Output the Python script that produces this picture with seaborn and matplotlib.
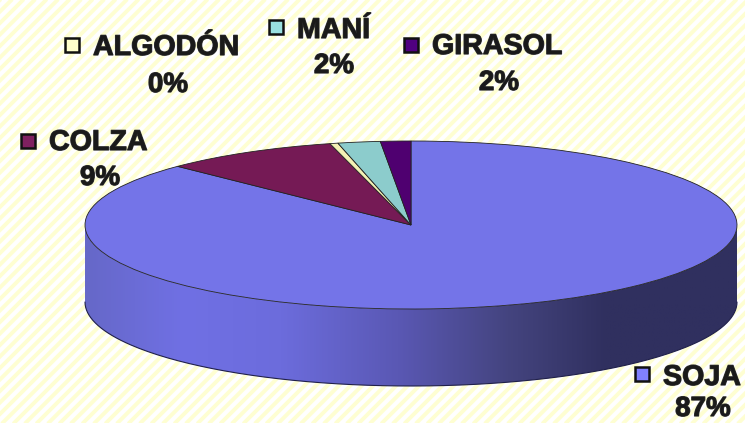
import matplotlib
matplotlib.use("Agg")
import matplotlib.pyplot as plt
import matplotlib.patheffects as pe
import numpy as np
import seaborn as sns
from matplotlib.colors import LinearSegmentedColormap
from matplotlib.patches import Polygon

sns.set_theme(style="white")
plt.rcParams["font.family"] = ["Liberation Sans", "DejaVu Sans"]

crops = ["SOJA", "COLZA", "ALGODÓN", "MANÍ", "GIRASOL"]
shares = [87.3, 8.7, 0.4, 2.1, 1.5]
colors = ["#7474e8", "#751a55", "#f4f0b4", "#8ccccc", "#4f0070"]
legend_colors = ["#8080ff", "#7f2060", "#ffffcc", "#99e0e0", "#500080"]
wall_stops = [(0, "#6668c8"), (0.15, "#7070e4"), (0.3, "#6c6cdc"), (0.48, "#5a58b4"),
              (0.65, "#44447f"), (0.8, "#30305f"), (1, "#30305f")]

W, H = 745, 423
CX, CY, RX, RY, DEPTH = 411, 225, 326, 84, 77
# marker x, marker y, name baseline, percent x, percent baseline
label_pos = {
    "SOJA": (634, 374, 385, 703, 416),
    "COLZA": (20, 141, 150, 100, 185),
    "ALGODÓN": (64, 45, 55, 168, 92),
    "MANÍ": (268, 27, 38, 334, 73),
    "GIRASOL": (403, 45, 54, 499, 90),
}

fig = plt.figure(figsize=(W / 100, H / 100), dpi=100)
bg = fig.add_axes([0, 0, 1, 1])
bg.set_xlim(0, W)
bg.set_ylim(H, 0)
bg.axis("off")

# striped background
for x0 in np.arange(0, W + H, 11.5):
    bg.plot([x0, x0 - H], [0, H], color="#fefed2", lw=2.8, zorder=0)

# side wall of the pie, gradient clipped to the outline
t = np.linspace(0, np.pi, 200)
top = np.c_[CX + RX * np.cos(t), CY + RY * np.sin(t)]
outline = np.r_[top + [0, DEPTH], top[::-1]]
cmap = LinearSegmentedColormap.from_list("wall", wall_stops)
img = bg.imshow(np.linspace(0, 1, 256)[None, :], cmap=cmap, aspect="auto",
                extent=[CX - RX, CX + RX, CY + RY + DEPTH, CY], zorder=1)
img.set_clip_path(Polygon(outline, transform=bg.transData))
bg.set_xlim(0, W)
bg.set_ylim(H, 0)
bg.plot(outline[:200, 0], outline[:200, 1], color="#20204a", lw=0.8, zorder=2)

# top face: a pie stretched into an ellipse
pie_ax = fig.add_axes([(CX - RX) / W, 1 - (CY + RY) / H, 2 * RX / W, 2 * RY / H])
pie_ax.pie(shares, colors=colors, startangle=90, counterclock=False, radius=1,
           wedgeprops={"edgecolor": "#222222", "linewidth": 0.6})
pie_ax.set_aspect("auto")
pie_ax.set_xlim(-1, 1)
pie_ax.set_ylim(-1, 1)
pie_ax.patch.set_visible(False)

heavy = [pe.withStroke(linewidth=0.9, foreground="#333333")]
for crop, share, col in zip(crops, shares, legend_colors):
    mx, my, name_y, tx, ty = label_pos[crop]
    bg.plot([mx + 8], [my], marker="s", ms=10.5, mfc=col, mec="#111111", mew=1.8, zorder=5)
    bg.text(mx + 29, name_y, crop, fontsize=20.6, fontweight="bold", color="#1a1a1a",
            ha="left", va="baseline", zorder=5, path_effects=heavy)
    bg.text(tx, ty, f"{share:.0f}%", fontsize=20, fontweight="bold", color="#1a1a1a",
            ha="center", va="baseline", zorder=5, path_effects=heavy)

fig.savefig("out.png", dpi=100)
